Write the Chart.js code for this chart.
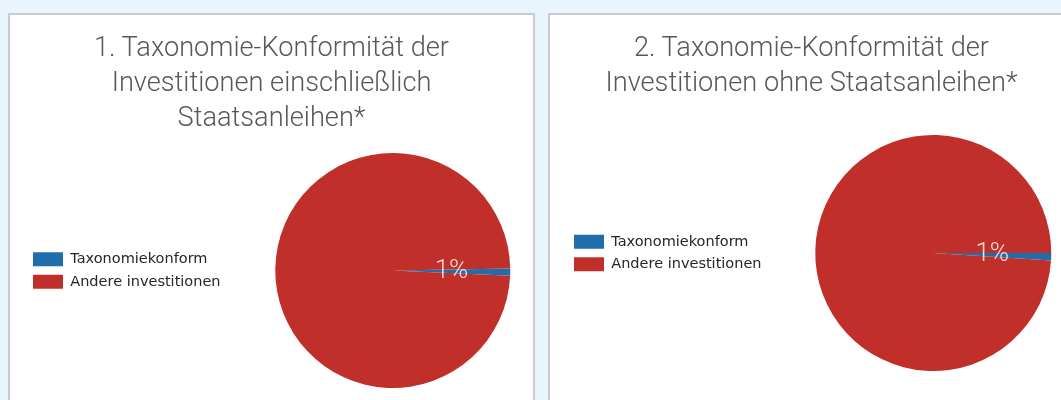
<!DOCTYPE html>
<html>
<head>
<meta charset="utf-8">
<script src="https://cdn.jsdelivr.net/npm/chart.js@4.4.1/dist/chart.umd.min.js"></script>
<style>
  body { margin: 0; width: 1061px; height: 400px; overflow: hidden; position: relative; background: #e9f5fc; font-family: Roboto, sans-serif; }
  .panel { position: absolute; top: 13px; width: 523px; height: 400px; background: #fff; border: 2px solid #c9cccf; overflow: hidden; }
  #panel1 { left: 8px; }
  #panel2 { left: 548px; }
  .title { position: absolute; left: 0; right: 0; top: 15px; text-align: center; font-weight: 300; font-size: 27.2px; line-height: 35px; color: #585858; }
  .chart-box { position: absolute; left: 0; top: 0; width: 545px; height: 385px; }
</style>
</head>
<body>
<div class="panel" id="panel1">
  <div class="chart-box"><canvas id="pie1"></canvas></div>
  <div class="title" id="title1"></div>
</div>
<div class="panel" id="panel2">
  <div class="chart-box"><canvas id="pie2"></canvas></div>
  <div class="title" id="title2"></div>
</div>
<script>
const categories = ['Taxonomiekonform', 'Andere investitionen'];
const valuesWithBonds = [1, 99];
const valuesWithoutBonds = [1, 99];
const sliceLabels = ['1%', ''];
const title1 = ['1. Taxonomie-Konformität der', 'Investitionen einschließlich', 'Staatsanleihen*'];
const title2 = ['2. Taxonomie-Konformität der', 'Investitionen ohne Staatsanleihen*'];
const colors = ['#1f6eab', '#c12f2a'];

// Write the title lines into the panels
const setTitle = (id, lines) => {
  const el = document.getElementById(id);
  lines.forEach((line, i) => {
    if (i > 0) el.appendChild(document.createElement('br'));
    el.appendChild(document.createTextNode(line));
  });
};
setTitle('title1', title1);
setTitle('title2', title2);

// Percentage text in the middle of each slice
const sliceLabelPlugin = {
  id: 'sliceLabel',
  afterDatasetsDraw(chart) {
    const { ctx } = chart;
    const meta = chart.getDatasetMeta(0);
    ctx.save();
    ctx.font = '300 26px Roboto';
    ctx.fillStyle = 'rgba(255, 240, 240, 0.88)';
    ctx.textAlign = 'center';
    ctx.textBaseline = 'middle';
    meta.data.forEach((arc, i) => {
      if (!sliceLabels[i]) return;
      const p = arc.getCenterPoint();
      ctx.fillText(sliceLabels[i], p.x, p.y);
    });
    ctx.restore();
  },
};

// Create Pie Chart
const createPieChart = (canvasId, values, rotation, padding) => {
  const context = document.getElementById(canvasId).getContext('2d');
  return new Chart(context, {
    type: 'pie',
    data: {
      labels: categories,
      datasets: [
        {
          data: values,
          backgroundColor: colors,
          borderWidth: 0,
        },
      ],
    },
    options: {
      responsive: true,
      maintainAspectRatio: false,
      animation: false,
      rotation: rotation,
      layout: { padding: padding },
      plugins: {
        legend: {
          position: 'left',
          labels: {
            boxWidth: 30,
            boxHeight: 14,
            padding: 8,
            color: '#262626',
            font: { family: 'DejaVu Sans', size: 14.5 },
          },
        },
        tooltip: { enabled: false },
      },
    },
    plugins: [sliceLabelPlugin],
  });
};

createPieChart('pie1', valuesWithBonds, 89, { left: 15, top: 138, bottom: 12, right: 0 });
createPieChart('pie2', valuesWithoutBonds, 90, { left: 16, top: 120, bottom: 29, right: 0 });
</script>
</body>
</html>
